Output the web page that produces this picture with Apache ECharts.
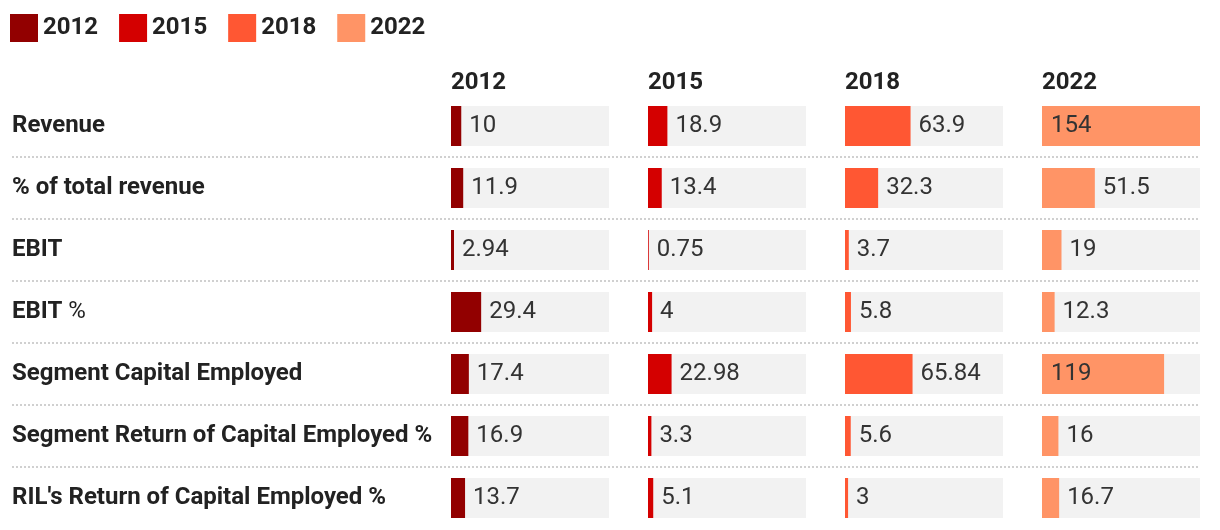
<!DOCTYPE html>
<html>
<head>
<meta charset="utf-8">
<script src="https://cdn.jsdelivr.net/npm/echarts@6/dist/echarts.min.js"></script>
<style>
html,body{margin:0;padding:0;background:#fff;}
#chart{width:1220px;height:530px;}
</style>
</head>
<body>
<div id="chart"></div>
<script>
const categories = ['Revenue', '% of total revenue', 'EBIT', 'EBIT %', 'Segment Capital Employed', 'Segment Return of Capital Employed %', "RIL's Return of Capital Employed %"];
const years = ['2012', '2015', '2018', '2022'];
const v2012 = [10, 11.9, 2.94, 29.4, 17.4, 16.9, 13.7];
const v2015 = [18.9, 13.4, 0.75, 4, 22.98, 3.3, 5.1];
const v2018 = [63.9, 32.3, 3.7, 5.8, 65.84, 5.6, 3];
const v2022 = [154, 51.5, 19, 12.3, 119, 16, 16.7];
const values = [v2012, v2015, v2018, v2022];
const colors = ['#920000', '#d40000', '#ff5733', '#ff9466'];
const xMax = 154;

const colLeft = [451, 648, 845, 1042];
const colWidth = 158;
const gridTop = 95, rowH = 62;
const font = 'Roboto, "Noto Sans", sans-serif';
const fs = 24;

const grids = colLeft.map(l => ({ left: l, width: colWidth, top: gridTop, height: rowH * categories.length }));
grids.push({ left: 12, right: 20, top: gridTop, height: rowH * categories.length });

const xAxes = grids.map((g, i) => ({ gridIndex: i, type: 'value', min: 0, max: xMax, show: false }));

const yAxes = colLeft.map((l, i) => ({
  gridIndex: i, type: 'category', inverse: true, data: categories,
  axisLine: { show: false }, axisTick: { show: false }, splitLine: { show: false },
  axisLabel: i === 0 ? {
    show: true, align: 'left', margin: 439, fontFamily: font, fontSize: fs, fontWeight: 'bold', color: '#222',
    formatter: v => v === 'EBIT %' ? '{b|EBIT} {r|%}' : '{b|' + v + '}',
    rich: { b: { fontFamily: font, fontSize: fs, fontWeight: 'bold', color: '#222' }, r: { fontFamily: font, fontSize: fs, fontWeight: 'normal', color: '#222' } }
  } : { show: false }
}));
yAxes.push({
  gridIndex: 4, type: 'value', min: 0, max: categories.length, interval: 1,
  axisLine: { show: false }, axisTick: { show: false }, axisLabel: { show: false },
  splitLine: { show: true, showMinLine: false, showMaxLine: false, lineStyle: { type: [2, 2], color: '#d0d0d0', width: 2 } }
});

const series = years.map((y, i) => ({
  name: y, type: 'bar', xAxisIndex: i, yAxisIndex: i, barWidth: 40,
  itemStyle: { color: colors[i] },
  showBackground: true, backgroundStyle: { color: '#f2f2f2' },
  label: { show: true, fontFamily: font, fontSize: fs, color: '#333', distance: 8 },
  data: values[i].map(v => ({ value: v, label: v / xMax > 0.6 ? { position: 'insideLeft', distance: 9 } : { position: 'right', distance: 8 } })),
  animation: false
}));

const option = {
  backgroundColor: '#fff',
  animation: false,
  textStyle: { fontFamily: font },
  legend: {
    left: 5, top: 9, itemWidth: 28, itemHeight: 28, itemGap: 21, icon: 'rect',
    data: years,
    textStyle: { fontFamily: font, fontSize: fs, fontWeight: 'bold', color: '#222' }
  },
  title: years.map((y, i) => ({
    text: y, left: colLeft[i] - 5, top: 66,
    textStyle: { fontFamily: font, fontSize: fs, fontWeight: 'bold', color: '#222' }
  })),
  grid: grids,
  xAxis: xAxes,
  yAxis: yAxes,
  series: series
};

const chart = echarts.init(document.getElementById('chart'), null, { renderer: 'canvas' });
chart.setOption(option);
</script>
</body>
</html>
